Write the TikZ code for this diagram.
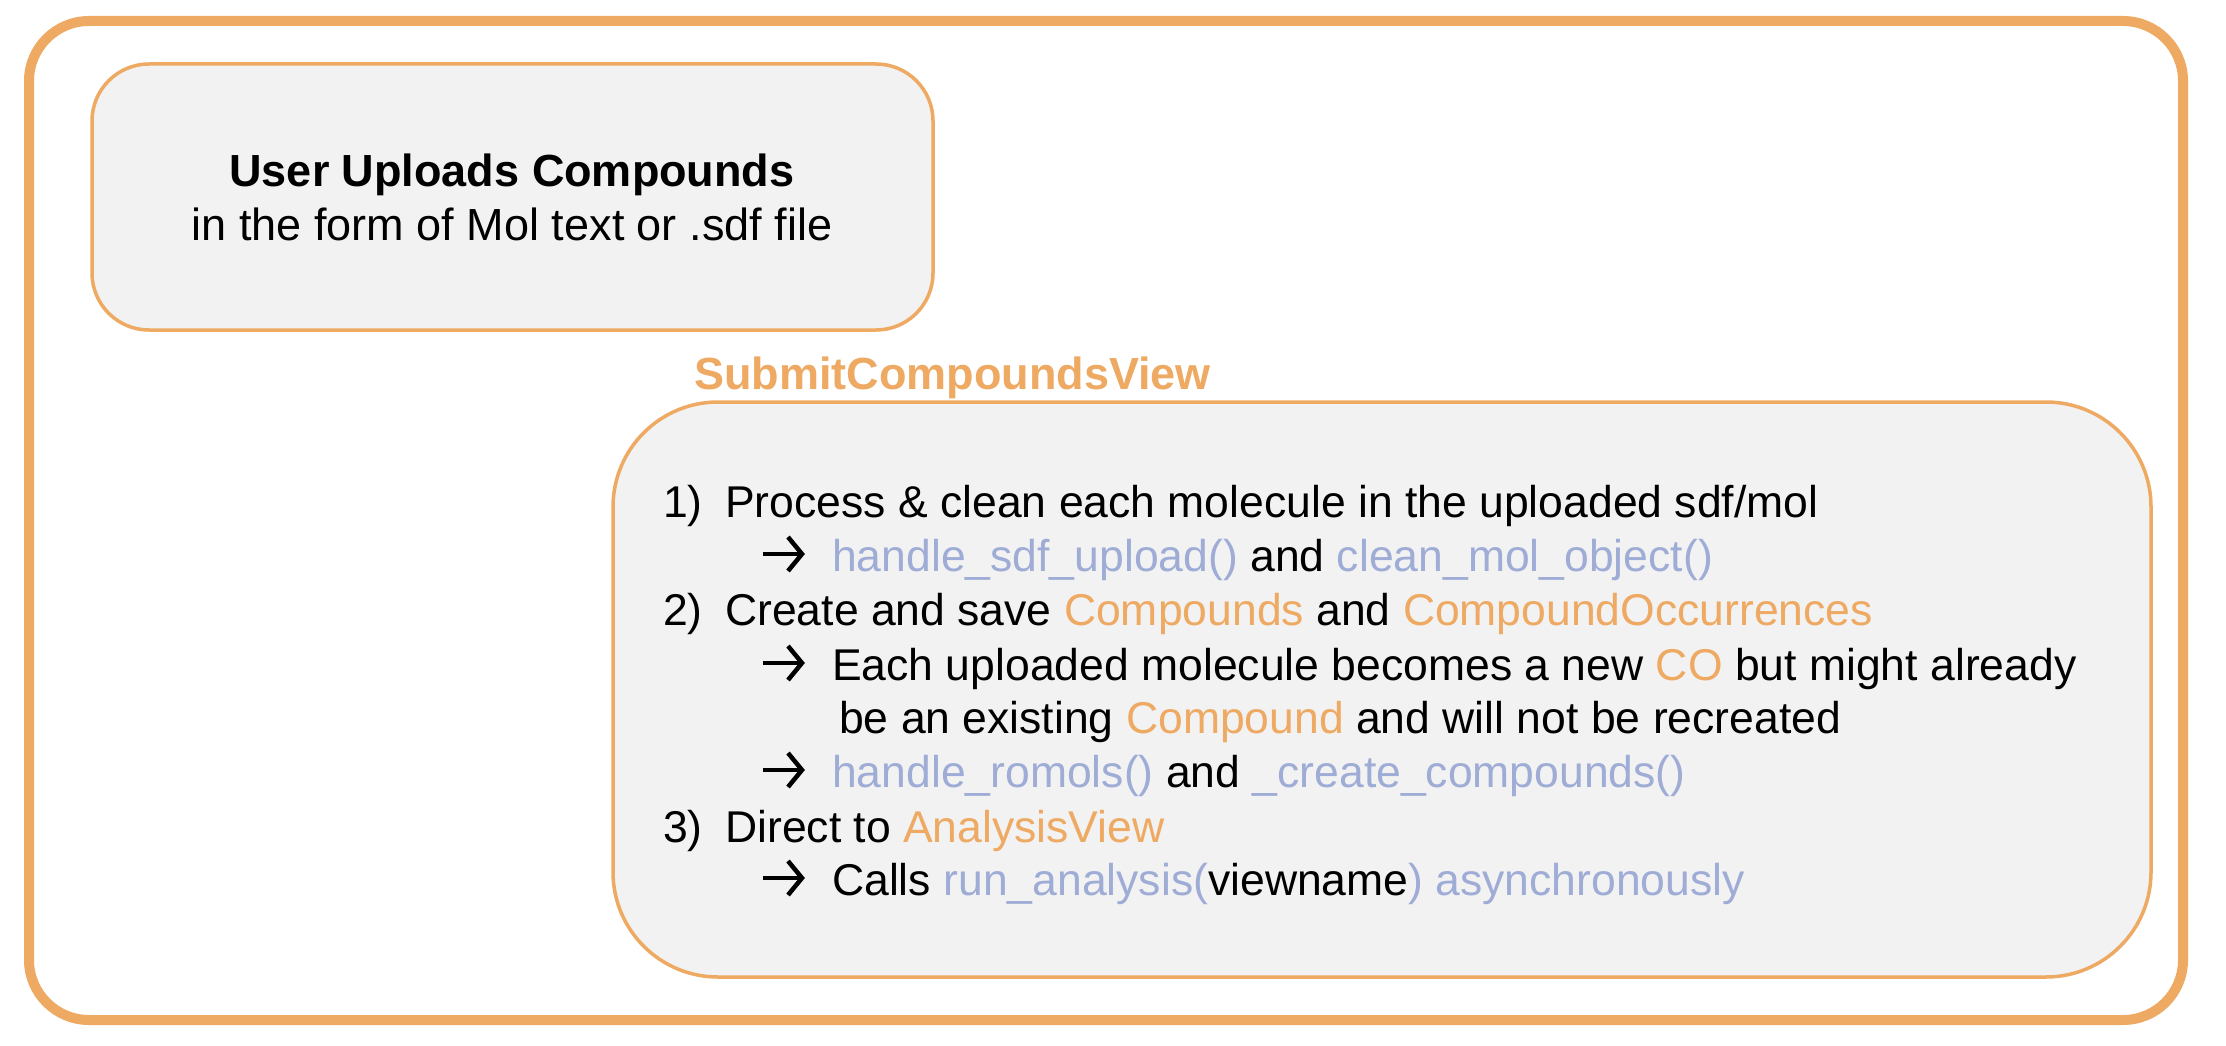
\documentclass[tikz,border=0pt]{standalone}
\usepackage{fontspec}
\setmainfont{Liberation Sans}
\usetikzlibrary{shadows}
\definecolor{orangeA}{RGB}{238,169,98}
\definecolor{blueA}{RGB}{158,172,214}
\definecolor{boxfill}{RGB}{242,242,242}
\newcommand{\og}[1]{\textcolor{orangeA}{#1}}
\newcommand{\bl}[1]{\textcolor{blueA}{#1}}
\newcommand{\num}[1]{\makebox[62pt][l]{#1}}
\begin{document}
\begin{tikzpicture}[x=1pt,y=-1pt,
  frame/.style={draw=orangeA,line width=10pt,rounded corners=60pt,fill=white,
    drop shadow={opacity=0.25,shadow xshift=3pt,shadow yshift=-4pt}},
  roundbox/.style={draw=orangeA,line width=3.5pt,fill=boxfill},
  txt/.style={inner sep=0pt,anchor=base west,font=\fontsize{44.5}{52}\selectfont},
  ttl/.style={inner sep=0pt,anchor=base,font=\fontsize{45}{52}\selectfont},
  arrowglyph/.style={line width=4.5pt,line join=miter}]
\useasboundingbox (0,0) rectangle (2226,1046);
\fill[white] (0,0) rectangle (2226,1046);
\path[frame] (29,21) rectangle (2183,1020);
\path[roundbox,rounded corners=57pt] (92,64) rectangle (933,330);
\path[roundbox,rounded corners=105pt] (613,402) rectangle (2151,977);
\node[ttl,font=\fontsize{45}{52}\selectfont\bfseries] (t1) at (512,186) {User Uploads Compounds};
\node[ttl] (t2) at (512,240) {in the form of Mol text or .sdf file};
\node[txt,font=\fontsize{45}{52}\selectfont\bfseries,text=orangeA] (sv) at (694,389) {SubmitCompoundsView};
\node[txt] (l1) at (663,517) {\num{1)}Process \& clean each molecule in the uploaded sdf/mol};
\node[txt] (l2) at (832,571) {\bl{handle\_sdf\_upload()} and \bl{clean\_mol\_object()}};
\node[txt] (l3) at (663,625) {\num{2)}Create and save \og{Compounds} and \og{CompoundOccurrences}};
\node[txt] (l4) at (832,680) {Each uploaded molecule becomes a new \og{CO} but might already};
\node[txt] (l5) at (839,733) {be an existing \og{Compound} and will not be recreated};
\node[txt] (l6) at (832,787) {\bl{handle\_romols()} and \bl{\_create\_compounds()}};
\node[txt] (l7) at (663,842) {\num{3)}Direct to \og{AnalysisView}};
\node[txt] (l8) at (832,895) {Calls \bl{run\_analysis(}viewname\bl{) asynchronously}};
\foreach \n in {l2,l4,l6,l8}{
  \draw[arrowglyph,shift={(\n.base west)}] (-69,-17) -- (-31,-17);
  \draw[arrowglyph,shift={(\n.base west)}] (-44,-34) -- (-30,-17) -- (-44,0);
}
\end{tikzpicture}
\end{document}
